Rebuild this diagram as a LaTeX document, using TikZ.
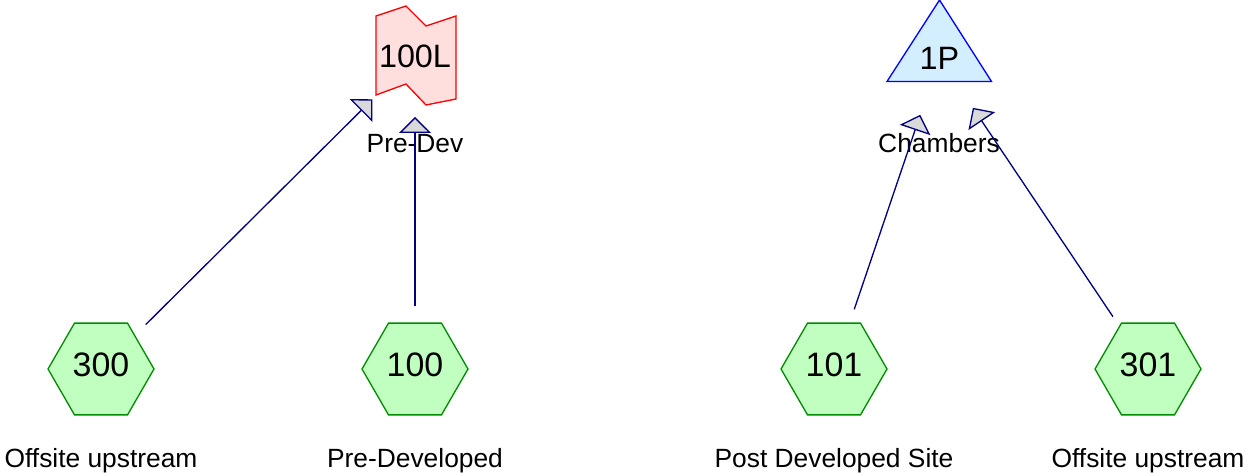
\documentclass[tikz,border=0pt]{standalone}
\usepackage{fontspec}
\setmainfont{Liberation Sans}
\usetikzlibrary{arrows.meta,shapes.geometric}
\definecolor{hexfill}{RGB}{192,255,192}
\definecolor{hexline}{RGB}{0,140,0}
\definecolor{outfill}{RGB}{255,222,222}
\definecolor{pondfill}{RGB}{210,238,255}
\definecolor{flowline}{RGB}{0,0,128}
\tikzset{
  subcatch/.style={regular polygon, regular polygon sides=6, minimum size=2.12cm, inner sep=0pt, text depth=0.16cm, draw=hexline, fill=hexfill, line width=0.75pt, font=\fontsize{19.3}{21}\selectfont},
  bigtext/.style={inner sep=0pt, anchor=base, font=\fontsize{18.4}{20}\selectfont},
  caption/.style={inner sep=0pt, anchor=base, font=\fontsize{15}{16}\selectfont},
  outfall/.style={draw=red, fill=outfill, line width=0.75pt},
  pond/.style={draw=blue, fill=pondfill, line width=0.75pt},
  flow/.style={-{Triangle[length=0.32cm, width=0.64cm, fill=black!15]}, line width=0.75pt, draw=flowline, shorten <=1.26cm, shorten >=1.2cm}
}
\begin{document}
\begin{tikzpicture}[x=0.02cm, y=-0.02cm]
  \useasboundingbox (0,0) rectangle (1247,473);

  % outlet and pond shapes
  \draw[outfall] (376,16) -- (406,6) -- (426,26) -- (456,16) -- (456,99) -- (426,105) -- (406,84) -- (376,95) -- cycle;
  \draw[pond] (939.5,0) -- (991.5,81.5) -- (887,81.5) -- cycle;

  \node[bigtext] (l100) at (415,68) {100L};
  \node[bigtext] (p1) at (939.5,70) {1P};
  \coordinate (l100c) at (415,57);
  \coordinate (p1c) at (939.5,58);
  \node[caption] (predev) at (415,153) {Pre-Dev};
  \node[caption] (chamb) at (939,153) {Chambers};

  % subcatchments
  \node[subcatch] (h300) at (101,369) {300};
  \node[subcatch] (h100) at (415,369) {100};
  \node[subcatch] (h101) at (834,369) {101};
  \node[subcatch] (h301) at (1148,369) {301};

  \node[caption] (c300) at (101,467) {Offsite upstream};
  \node[caption] (c100) at (415,467) {Pre-Developed};
  \node[caption] (c101) at (834,467) {Post Developed Site};
  \node[caption] (c301) at (1148,467) {Offsite upstream};

  \draw[flow] (h300.center) -- (l100c);
  \draw[flow] (h100.center) -- (l100c);
  \draw[flow] (h101.center) -- (p1c);
  \draw[flow] (h301.center) -- (p1c);
\end{tikzpicture}
\end{document}
